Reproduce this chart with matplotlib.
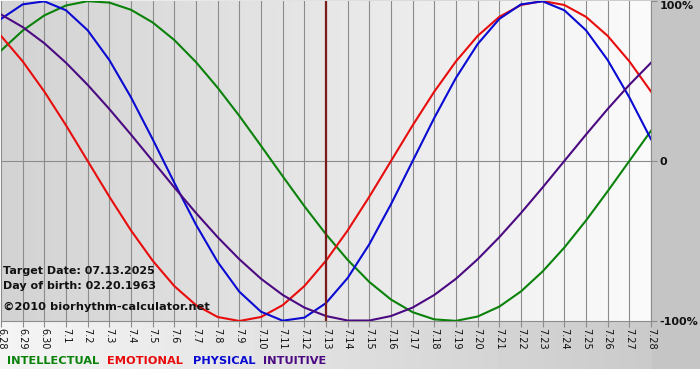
import numpy as np
import matplotlib
matplotlib.use("Agg")
import matplotlib.pyplot as plt
from matplotlib.colors import LinearSegmentedColormap

# day labels 6.28 .. 7.28
days = ["6.28", "6.29", "6.30"] + [f"7.{d}" for d in range(1, 29)]

# biorhythm values in percent, read per day
physical = [88.8, 97.9, 99.8, 94.2, 81.7, 63.1, 39.8, 13.6, -13.6, -39.8,
            -63.1, -81.7, -94.2, -99.8, -97.9, -88.8, -73.1, -52.0, -27.0, 0.0,
            27.0, 52.0, 73.1, 88.8, 97.9, 99.8, 94.2, 81.7, 63.1, 39.8, 13.6]
emotional = [78.2, 62.3, 43.4, 22.3, 0.0, -22.3, -43.4, -62.3, -78.2, -90.1,
             -97.5, -100.0, -97.5, -90.1, -78.2, -62.3, -43.4, -22.3, 0.0, 22.3,
             43.4, 62.3, 78.2, 90.1, 97.5, 100.0, 97.5, 90.1, 78.2, 62.3, 43.4]
intellectual = [69.0, 81.5, 91.0, 97.2, 99.9, 99.0, 94.5, 86.6, 75.6, 61.8,
                45.8, 28.2, 9.5, -9.5, -28.2, -45.8, -61.8, -75.6, -86.6, -94.5,
                -99.0, -99.9, -97.2, -91.0, -81.5, -69.0, -54.1, -37.2, -18.9, 0.0, 18.9]
intuitive = [91.6, 83.7, 73.6, 61.4, 47.6, 32.5, 16.5, 0.0, -16.5, -32.5,
             -47.6, -61.4, -73.6, -83.7, -91.6, -96.9, -99.7, -99.7, -96.9, -91.6,
             -83.7, -73.6, -61.4, -47.6, -32.5, -16.5, 0.0, 16.5, 32.5, 47.6, 61.4]

target_day = "7.13"
y_ticks = [100, 0, -100]
y_labels = ["100%", "0", "-100%"]

series = [
    ("INTELLECTUAL", intellectual, "#0a820a"),
    ("EMOTIONAL", emotional, "#e80c0c"),
    ("PHYSICAL", physical, "#0a0ad2"),
    ("INTUITIVE", intuitive, "#4b0a82"),
]

W, H = 700, 380
fig = plt.figure(figsize=(W / 100, H / 100), dpi=100)

# ---- outer background
bg_ax = fig.add_axes([0, 0, 1, 1], zorder=-5)
bg = np.ones((H, W))
band = np.linspace(0.96, 0.78, W)
bg[:369, :] = band[None, :]
bg[:369, 652:] = 0.77
bg_ax.imshow(bg, cmap="gray", vmin=0, vmax=1, aspect="auto", interpolation="bilinear")
bg_ax.axis("off")

# ---- plot area
ax = fig.add_axes([1 / W, 1 - 321 / H, 650 / W, 320 / H])
x = np.arange(len(days))

grad_cmap = LinearSegmentedColormap.from_list("g", ["#d3d3d3", "#fbfbfb"])
ax.imshow(np.linspace(0, 1, 256)[None, :], cmap=grad_cmap, aspect="auto",
          extent=[0, len(days) - 1, -100, 100], zorder=0)

for xi in x:
    ax.axvline(xi, color="#8c8c8c", lw=0.8, zorder=1)
ax.axhline(0, color="#8c8c8c", lw=0.8, zorder=1)

for name, vals, col in series:
    ax.plot(x, vals, color=col, lw=1.5, zorder=3, solid_joinstyle="round")

ax.axvline(days.index(target_day), color="#7a1c1c", lw=1.6, zorder=4)

ax.set_xlim(0, len(days) - 1)
ax.set_ylim(-100, 100)
ax.set_xticks(x)
ax.set_xticklabels(days, rotation=-90, fontsize=7, color="#111111")
ax.tick_params(axis="x", length=4, color="#8c8c8c", pad=1)
ax.yaxis.tick_right()
ax.set_yticks(y_ticks)
ax.set_yticklabels(y_labels, fontsize=8, fontweight="bold", color="#111111")
ax.tick_params(axis="y", length=4, color="#8c8c8c", pad=2)
ax.get_yticklabels()[0].set_va("top")
for s in ["left", "top"]:
    ax.spines[s].set_visible(False)
for s in ["bottom", "right"]:
    ax.spines[s].set_color("#8c8c8c")
    ax.spines[s].set_linewidth(0.8)

# ---- info texts
info = ["Target Date: 07.13.2025", "Day of birth: 02.20.1963"]
fig.text(3 / W, 1 - 271 / H, info[0], fontsize=8, fontweight="bold", va="center", ha="left", color="#111111")
fig.text(3 / W, 1 - 286 / H, info[1], fontsize=8, fontweight="bold", va="center", ha="left", color="#111111")
fig.text(3 / W, 1 - 307 / H, "\u00a92010 biorhythm-calculator.net", fontsize=8.2,
         fontweight="bold", va="center", ha="left", color="#111111")

# ---- legend words
legend_x = [7, 107, 193, 263]
for (name, vals, col), lx in zip(series, legend_x):
    fig.text(lx / W, 1 - 361 / H, name, fontsize=8.2, fontweight="bold",
             va="center", ha="left", color=col)

fig.savefig("out.png", dpi=100)
